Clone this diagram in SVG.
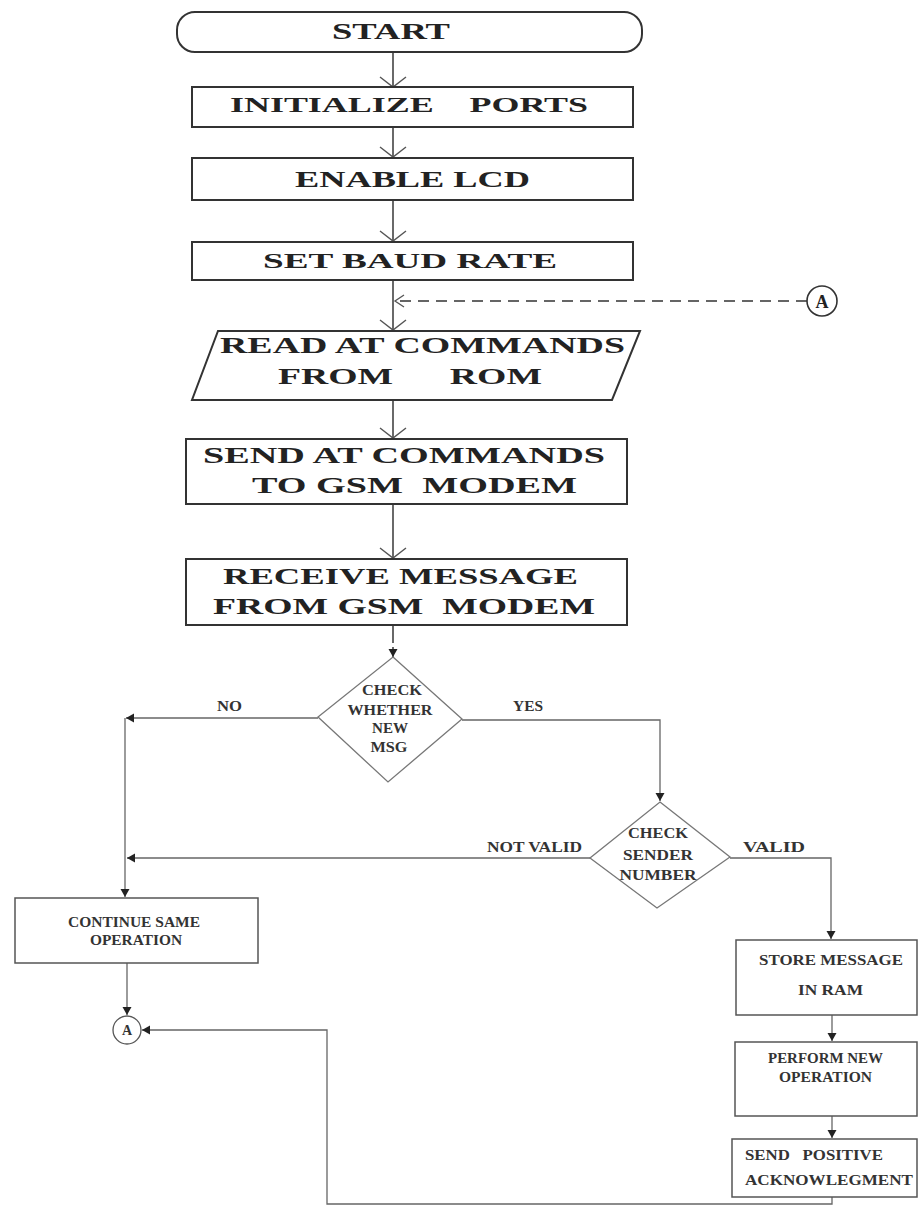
<svg xmlns="http://www.w3.org/2000/svg" width="918" height="1207" viewBox="0 0 918 1207">
<defs>
<style>
.box{fill:#fff;stroke:#333;stroke-width:2}
.box2{fill:#fff;stroke:#555;stroke-width:1.5}
.dia{fill:#fff;stroke:#777;stroke-width:1.3}
.t{font-family:"Liberation Serif","Times New Roman",serif;font-weight:bold;fill:#222;font-size:23px}
.s{font-family:"Liberation Serif","Times New Roman",serif;font-weight:bold;fill:#333;font-size:14px}
.c1{fill:none;stroke:#444;stroke-width:1.6}
.c2{fill:none;stroke:#666;stroke-width:1.3}
.dash{fill:none;stroke:#333;stroke-width:1.7;stroke-dasharray:11 7}
</style>
<marker id="open" markerUnits="userSpaceOnUse" markerWidth="14" markerHeight="30" refX="11" refY="15" orient="auto" viewBox="0 0 14 30">
<path d="M1,2 L11,15 L1,28" fill="none" stroke="#555" stroke-width="1.4"/>
</marker>
<marker id="openS" markerUnits="userSpaceOnUse" markerWidth="12" markerHeight="14" refX="10" refY="7" orient="auto" viewBox="0 0 12 14">
<path d="M1,1 L10,7 L1,13" fill="none" stroke="#555" stroke-width="1.3"/>
</marker>
<marker id="fill" markerUnits="userSpaceOnUse" markerWidth="10" markerHeight="10" refX="8" refY="4.5" orient="auto" viewBox="0 0 10 10">
<path d="M0,0 L8,4.5 L0,9 z" fill="#222"/>
</marker>
</defs>
<rect width="918" height="1207" fill="#fff"/>

<g id="connectors">
<line class="c1" x1="393" y1="52" x2="393" y2="87" marker-end="url(#open)"/>
<line class="c1" x1="393" y1="127" x2="393" y2="157" marker-end="url(#open)"/>
<line class="c1" x1="393" y1="200" x2="393" y2="241" marker-end="url(#open)"/>
<line class="c1" x1="393" y1="280" x2="393" y2="330" marker-end="url(#open)"/>
<line class="dash" x1="807" y1="301" x2="395" y2="301" marker-end="url(#openS)"/>
<line class="c1" x1="393" y1="400" x2="393" y2="438" marker-end="url(#open)"/>
<line class="c1" x1="393" y1="504" x2="393" y2="558" marker-end="url(#open)"/>
<line class="c1" x1="393" y1="625" x2="393" y2="657" stroke-dasharray="18 4 3 4 3 4" marker-end="url(#fill)"/>
<polyline class="c2" points="318,718 126,718" marker-end="url(#fill)"/>
<polyline class="c2" points="125,718 125,897" marker-end="url(#fill)"/>
<polyline class="c2" points="462,720 660,720 660,801" marker-end="url(#fill)"/>
<polyline class="c2" points="590,858 127,858" marker-end="url(#fill)"/>
<polyline class="c2" points="730,858 831,858 831,939" marker-end="url(#fill)"/>
<polyline class="c2" points="127,963 127,1015" marker-end="url(#fill)"/>
<polyline class="c2" points="832,1015 832,1041" marker-end="url(#fill)"/>
<polyline class="c2" points="832,1116 832,1138" marker-end="url(#fill)"/>
<polyline class="c2" points="832,1197 832,1204 327,1204 327,1030 142,1030" marker-end="url(#fill)"/>
</g>

<g id="start">
<rect class="box" x="177" y="12" width="465" height="40" rx="18" ry="18"/>
<text class="t" x="332" y="39" textLength="118" lengthAdjust="spacingAndGlyphs">START</text>
</g>
<g id="init">
<rect class="box" x="192" y="87" width="441" height="40"/>
<text class="t" x="230" y="112" style="font-size:22px" textLength="358" lengthAdjust="spacingAndGlyphs" xml:space="preserve">INITIALIZE    PORTS</text>
</g>
<g id="lcd">
<rect class="box" x="192" y="158" width="441" height="42"/>
<text class="t" x="295" y="187" style="font-size:24px" textLength="235" lengthAdjust="spacingAndGlyphs">ENABLE LCD</text>
</g>
<g id="baud">
<rect class="box" x="192" y="242" width="441" height="38"/>
<text class="t" x="263" y="268" style="font-size:22px" textLength="294" lengthAdjust="spacingAndGlyphs">SET BAUD RATE</text>
</g>
<g id="connA_top">
<circle cx="822" cy="301" r="15" fill="#fff" stroke="#333" stroke-width="1.6"/>
<text class="t" x="822" y="308" text-anchor="middle" style="font-size:18px">A</text>
</g>
<g id="read">
<polygon class="box" points="218,331 640,331 612,400 192,400"/>
<text class="t" x="220" y="353" textLength="405" lengthAdjust="spacingAndGlyphs">READ AT COMMANDS</text>
<text class="t" x="278" y="384" textLength="264" lengthAdjust="spacingAndGlyphs" xml:space="preserve">FROM      ROM</text>
</g>
<g id="send">
<rect class="box" x="186" y="439" width="441" height="65"/>
<text class="t" x="203" y="463" textLength="402" lengthAdjust="spacingAndGlyphs">SEND AT COMMANDS</text>
<text class="t" x="252" y="493" textLength="325" lengthAdjust="spacingAndGlyphs" xml:space="preserve">TO GSM  MODEM</text>
</g>
<g id="receive">
<rect class="box" x="186" y="559" width="441" height="66"/>
<text class="t" x="223" y="584" textLength="355" lengthAdjust="spacingAndGlyphs">RECEIVE MESSAGE</text>
<text class="t" x="213" y="614" textLength="382" lengthAdjust="spacingAndGlyphs" xml:space="preserve">FROM GSM  MODEM</text>
</g>
<g id="check_new">
<polygon class="dia" points="393,657 462,719 388,782 318,717"/>
<text class="s" x="392" y="695" text-anchor="middle" textLength="60" lengthAdjust="spacingAndGlyphs">CHECK</text>
<text class="s" x="390" y="715" text-anchor="middle" textLength="85" lengthAdjust="spacingAndGlyphs">WHETHER</text>
<text class="s" x="390" y="733" text-anchor="middle" textLength="36" lengthAdjust="spacingAndGlyphs">NEW</text>
<text class="s" x="389" y="752" text-anchor="middle" textLength="37" lengthAdjust="spacingAndGlyphs">MSG</text>
</g>
<g id="labels">
<text class="s" x="217" y="711" textLength="25" lengthAdjust="spacingAndGlyphs">NO</text>
<text class="s" x="513" y="711" textLength="30" lengthAdjust="spacingAndGlyphs">YES</text>
<text class="s" x="487" y="852" textLength="95" lengthAdjust="spacingAndGlyphs">NOT VALID</text>
<text class="s" x="743" y="852" textLength="62" lengthAdjust="spacingAndGlyphs">VALID</text>
</g>
<g id="check_sender">
<polygon class="dia" points="660,802 730,857 657,908 590,858"/>
<text class="s" x="658" y="838" text-anchor="middle" textLength="60" lengthAdjust="spacingAndGlyphs">CHECK</text>
<text class="s" x="658" y="860" text-anchor="middle" textLength="70" lengthAdjust="spacingAndGlyphs">SENDER</text>
<text class="s" x="658" y="880" text-anchor="middle" textLength="77" lengthAdjust="spacingAndGlyphs">NUMBER</text>
</g>
<g id="continue">
<rect class="box2" x="15" y="898" width="243" height="65"/>
<text class="s" x="68" y="927" textLength="132" lengthAdjust="spacingAndGlyphs">CONTINUE SAME</text>
<text class="s" x="90" y="945" textLength="92" lengthAdjust="spacingAndGlyphs">OPERATION</text>
</g>
<g id="connA_bottom">
<circle cx="127" cy="1030" r="14" fill="#fff" stroke="#555" stroke-width="1.3"/>
<text class="s" x="127" y="1035" text-anchor="middle">A</text>
</g>
<g id="store">
<rect class="box2" x="736" y="940" width="181" height="75"/>
<text class="s" x="759" y="965" textLength="144" lengthAdjust="spacingAndGlyphs">STORE MESSAGE</text>
<text class="s" x="798" y="995" textLength="65" lengthAdjust="spacingAndGlyphs">IN RAM</text>
</g>
<g id="perform">
<rect class="box2" x="735" y="1042" width="182" height="74"/>
<text class="s" x="768" y="1063" textLength="115" lengthAdjust="spacingAndGlyphs">PERFORM NEW</text>
<text class="s" x="779" y="1082" textLength="93" lengthAdjust="spacingAndGlyphs">OPERATION</text>
</g>
<g id="ack">
<rect class="box2" x="732" y="1139" width="185" height="58"/>
<text class="s" x="745" y="1160" textLength="138" lengthAdjust="spacingAndGlyphs" xml:space="preserve">SEND   POSITIVE</text>
<text class="s" x="745" y="1185" textLength="168" lengthAdjust="spacingAndGlyphs">ACKNOWLEGMENT</text>
</g>
</svg>
